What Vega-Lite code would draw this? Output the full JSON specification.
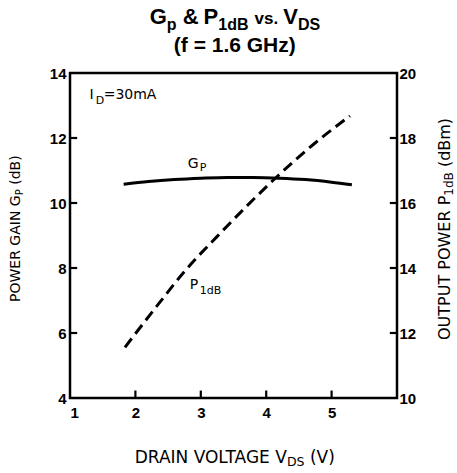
{
  "$schema": "https://vega.github.io/schema/vega-lite/v6.json",
  "width": 327,
  "height": 325,
  "autosize": "none",
  "padding": {"left": 70, "top": 73, "right": 60, "bottom": 75},
  "background": "white",
  "config": {
    "view": {"stroke": "black", "strokeWidth": 2.5},
    "axis": {
      "grid": false,
      "domain": false,
      "ticks": true,
      "tickSize": 0,
      "labelColor": "black",
      "labelFont": "Liberation Sans",
      "labelFontWeight": "bold",
      "labelFontSize": 15,
      "format": "d",
      "title": null
    }
  },
  "datasets": {
    "gp": [
      {"v": 1.82, "g": 10.58}, {"v": 2.2, "g": 10.66}, {"v": 2.6, "g": 10.72},
      {"v": 3.0, "g": 10.76}, {"v": 3.4, "g": 10.785}, {"v": 3.8, "g": 10.785},
      {"v": 4.2, "g": 10.765}, {"v": 4.6, "g": 10.72}, {"v": 5.0, "g": 10.64},
      {"v": 5.31, "g": 10.56}
    ],
    "p1db": [
      {"v": 1.84, "p": 11.56}, {"v": 2.36, "p": 12.91}, {"v": 2.77, "p": 13.94},
      {"v": 3.24, "p": 14.95}, {"v": 3.7, "p": 15.9}, {"v": 4.16, "p": 16.8},
      {"v": 4.72, "p": 17.8}, {"v": 5.28, "p": 18.68}
    ],
    "xticks": [{"t": 2}, {"t": 3}, {"t": 4}, {"t": 5}],
    "yticks": [{"t": 6}, {"t": 8}, {"t": 10}, {"t": 12}],
    "y2ticks": [{"t": 12}, {"t": 14}, {"t": 16}, {"t": 18}],
    "txt": [
      {"role": "title", "x": 2.219, "y": 15.5, "text": "G"},
      {"role": "title", "x": 2.723, "y": 15.5, "text": "&"},
      {"role": "title", "x": 3.043, "y": 15.5, "text": "P"},
      {"role": "title", "x": 4.26, "y": 15.5, "text": "V"},
      {"role": "titlevs", "x": 3.822, "y": 15.5, "text": "vs."},
      {"role": "titlesub", "x": 2.481, "y": 15.32, "text": "p"},
      {"role": "titlesub", "x": 3.268, "y": 15.32, "text": "1dB"},
      {"role": "titlesub", "x": 4.485, "y": 15.32, "text": "DS"},
      {"role": "title2", "x": 3.52, "y": 14.655, "text": "(f = 1.6 GHz)"},
      {"role": "label", "x": 1.3, "y": 13.19, "text": "I"},
      {"role": "label", "x": 1.515, "y": 13.19, "text": "=30mA"},
      {"role": "label", "x": 2.8, "y": 11.07, "text": "G"},
      {"role": "label", "x": 2.83, "y": 7.34, "text": "P"},
      {"role": "labelsub", "x": 1.392, "y": 13.05, "text": "D"},
      {"role": "labelsub", "x": 2.985, "y": 10.98, "text": "P"},
      {"role": "labelsub", "x": 2.985, "y": 7.2, "text": "1dB"},
      {"role": "xtitle", "x": 1.989, "y": 2.0, "text": "DRAIN VOLTAGE V"},
      {"role": "xtitle", "x": 4.669, "y": 2.0, "text": "(V)"},
      {"role": "xtitlesub", "x": 4.317, "y": 1.908, "text": "DS"},
      {"role": "ytitle", "x": 0.228, "y": 6.954, "text": "POWER GAIN G"},
      {"role": "ytitle", "x": 0.228, "y": 10.56, "text": "(dB)"},
      {"role": "ytitlesub", "x": 0.274, "y": 10.237, "text": "P"},
      {"role": "y2title", "x": 6.813, "y": 5.785, "text": "OUTPUT POWER P"},
      {"role": "y2title", "x": 6.813, "y": 11.105, "text": "(dBm)"},
      {"role": "y2titlesub", "x": 6.859, "y": 10.225, "text": "1dB"}
    ]
  },
  "layer": [
    {
      "layer": [
        {
          "data": {"name": "gp"},
          "mark": {"type": "line", "color": "black", "strokeWidth": 3, "interpolate": "monotone"},
          "encoding": {
            "x": {"field": "v", "type": "quantitative", "scale": {"domain": [1, 6], "nice": false, "zero": false},
                  "axis": {"values": [1, 2, 3, 4, 5], "labelPadding": 7}},
            "y": {"field": "g", "type": "quantitative", "scale": {"domain": [4, 14], "nice": false, "zero": false},
                  "axis": {"values": [4, 6, 8, 10, 12, 14], "labelFlush": false, "labelPadding": 4}}
          }
        },
        {
          "data": {"name": "xticks"},
          "mark": {"type": "rule", "color": "black", "strokeWidth": 2.2},
          "encoding": {
            "x": {"field": "t", "type": "quantitative"},
            "y": {"datum": 4, "type": "quantitative"},
            "y2": {"datum": 4.23}
          }
        },
        {
          "data": {"name": "yticks"},
          "mark": {"type": "rule", "color": "black", "strokeWidth": 2.2},
          "encoding": {
            "y": {"field": "t", "type": "quantitative"},
            "x": {"datum": 1, "type": "quantitative"},
            "x2": {"datum": 1.11}
          }
        },
        {
          "data": {"name": "txt"},
          "transform": [{"filter": "datum.role === 'title'"}],
          "mark": {"type": "text", "align": "left", "baseline": "alphabetic", "font": "Liberation Sans", "fontWeight": "bold", "fontSize": 22, "color": "black"},
          "encoding": {
            "x": {"field": "x", "type": "quantitative"},
            "y": {"field": "y", "type": "quantitative"},
            "text": {"field": "text"}
          }
        },
        {
          "data": {"name": "txt"},
          "transform": [{"filter": "datum.role === 'titlevs'"}],
          "mark": {"type": "text", "align": "left", "baseline": "alphabetic", "font": "Liberation Sans", "fontWeight": "bold", "fontSize": 17, "color": "black"},
          "encoding": {
            "x": {"field": "x", "type": "quantitative"},
            "y": {"field": "y", "type": "quantitative"},
            "text": {"field": "text"}
          }
        },
        {
          "data": {"name": "txt"},
          "transform": [{"filter": "datum.role === 'titlesub'"}],
          "mark": {"type": "text", "align": "left", "baseline": "alphabetic", "font": "Liberation Sans", "fontWeight": "bold", "fontSize": 16, "color": "black"},
          "encoding": {
            "x": {"field": "x", "type": "quantitative"},
            "y": {"field": "y", "type": "quantitative"},
            "text": {"field": "text"}
          }
        },
        {
          "data": {"name": "txt"},
          "transform": [{"filter": "datum.role === 'title2'"}],
          "mark": {"type": "text", "align": "center", "baseline": "alphabetic", "font": "Liberation Sans", "fontWeight": "bold", "fontSize": 21, "color": "black"},
          "encoding": {
            "x": {"field": "x", "type": "quantitative"},
            "y": {"field": "y", "type": "quantitative"},
            "text": {"field": "text"}
          }
        },
        {
          "data": {"name": "txt"},
          "transform": [{"filter": "datum.role === 'label'"}],
          "mark": {"type": "text", "align": "left", "baseline": "alphabetic", "font": "DejaVu Sans", "fontSize": 14, "color": "black"},
          "encoding": {
            "x": {"field": "x", "type": "quantitative"},
            "y": {"field": "y", "type": "quantitative"},
            "text": {"field": "text"}
          }
        },
        {
          "data": {"name": "txt"},
          "transform": [{"filter": "datum.role === 'labelsub'"}],
          "mark": {"type": "text", "align": "left", "baseline": "alphabetic", "font": "DejaVu Sans", "fontSize": 11, "color": "black"},
          "encoding": {
            "x": {"field": "x", "type": "quantitative"},
            "y": {"field": "y", "type": "quantitative"},
            "text": {"field": "text"}
          }
        },
        {
          "data": {"name": "txt"},
          "transform": [{"filter": "datum.role === 'xtitle'"}],
          "mark": {"type": "text", "align": "left", "baseline": "alphabetic", "font": "DejaVu Sans", "fontSize": 17, "color": "black"},
          "encoding": {
            "x": {"field": "x", "type": "quantitative"},
            "y": {"field": "y", "type": "quantitative"},
            "text": {"field": "text"}
          }
        },
        {
          "data": {"name": "txt"},
          "transform": [{"filter": "datum.role === 'xtitlesub'"}],
          "mark": {"type": "text", "align": "left", "baseline": "alphabetic", "font": "DejaVu Sans", "fontSize": 12.5, "color": "black"},
          "encoding": {
            "x": {"field": "x", "type": "quantitative"},
            "y": {"field": "y", "type": "quantitative"},
            "text": {"field": "text"}
          }
        },
        {
          "data": {"name": "txt"},
          "transform": [{"filter": "datum.role === 'ytitle'"}],
          "mark": {"type": "text", "align": "left", "baseline": "alphabetic", "angle": 270, "font": "DejaVu Sans", "fontSize": 14, "color": "black"},
          "encoding": {
            "x": {"field": "x", "type": "quantitative"},
            "y": {"field": "y", "type": "quantitative"},
            "text": {"field": "text"}
          }
        },
        {
          "data": {"name": "txt"},
          "transform": [{"filter": "datum.role === 'ytitlesub'"}],
          "mark": {"type": "text", "align": "left", "baseline": "alphabetic", "angle": 270, "font": "DejaVu Sans", "fontSize": 10, "color": "black"},
          "encoding": {
            "x": {"field": "x", "type": "quantitative"},
            "y": {"field": "y", "type": "quantitative"},
            "text": {"field": "text"}
          }
        },
        {
          "data": {"name": "txt"},
          "transform": [{"filter": "datum.role === 'y2title'"}],
          "mark": {"type": "text", "align": "left", "baseline": "alphabetic", "angle": 270, "font": "DejaVu Sans", "fontSize": 16, "color": "black"},
          "encoding": {
            "x": {"field": "x", "type": "quantitative"},
            "y": {"field": "y", "type": "quantitative"},
            "text": {"field": "text"}
          }
        },
        {
          "data": {"name": "txt"},
          "transform": [{"filter": "datum.role === 'y2titlesub'"}],
          "mark": {"type": "text", "align": "left", "baseline": "alphabetic", "angle": 270, "font": "DejaVu Sans", "fontSize": 12, "color": "black"},
          "encoding": {
            "x": {"field": "x", "type": "quantitative"},
            "y": {"field": "y", "type": "quantitative"},
            "text": {"field": "text"}
          }
        }
      ]
    },
    {
      "layer": [
        {
          "data": {"name": "p1db"},
          "mark": {"type": "line", "color": "black", "strokeWidth": 3, "strokeDash": [11, 6], "interpolate": "monotone"},
          "encoding": {
            "x": {"field": "v", "type": "quantitative"},
            "y": {"field": "p", "type": "quantitative", "scale": {"domain": [10, 20], "nice": false, "zero": false},
                  "axis": {"orient": "right", "values": [10, 12, 14, 16, 18, 20], "labelFlush": false, "labelPadding": 2}}
          }
        },
        {
          "data": {"name": "y2ticks"},
          "mark": {"type": "rule", "color": "black", "strokeWidth": 2.2},
          "encoding": {
            "y": {"field": "t", "type": "quantitative"},
            "x": {"datum": 6, "type": "quantitative"},
            "x2": {"datum": 5.89}
          }
        }
      ]
    }
  ],
  "resolve": {"scale": {"y": "independent"}}
}
